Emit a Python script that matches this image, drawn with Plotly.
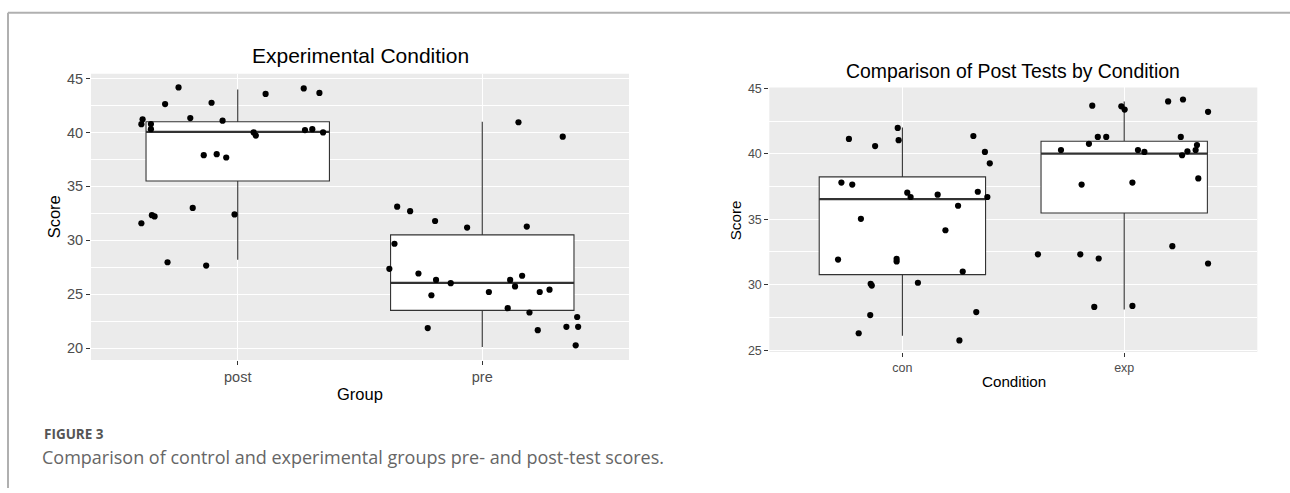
import plotly.graph_objects as go

W, H = 1290, 493

# ---------------- data ----------------
# Left panel: Experimental condition, pre vs post
groups_left = ["post", "pre"]
post_q1, post_med, post_q3, post_lo, post_hi = 35.5, 40.05, 41.0, 28.2, 44.0
pre_q1, pre_med, pre_q3, pre_lo, pre_hi = 23.5, 26.05, 30.5, 20.1, 41.0

post_jitter = [-0.394, -0.389, -0.394, -0.355, -0.355, -0.351, -0.34, -0.297, -0.287,
               -0.242, -0.194, -0.184, -0.139, -0.129, -0.107, -0.086, -0.062, -0.047,
               -0.013, 0.065, 0.074, 0.114, 0.27, 0.275, 0.305, 0.334, 0.349]
post_scores = [31.58, 41.22, 40.77, 40.79, 40.31, 32.33, 32.21, 42.64, 27.96,
               44.18, 41.34, 33.0, 37.9, 27.65, 42.76, 37.99, 41.1, 37.68,
               32.4, 40.01, 39.71, 43.58, 44.09, 40.22, 40.31, 43.67, 40.01]

pre_jitter = [-0.348, -0.295, -0.193, -0.062, 0.182, -0.359, -0.38, -0.261, -0.189,
              -0.129, -0.208, -0.223, 0.027, 0.114, 0.134, 0.163, 0.104, 0.193,
              0.235, 0.275, 0.227, 0.344, 0.388, 0.392, 0.382, 0.148, 0.329]
pre_scores = [33.12, 32.7, 31.79, 31.18, 31.27, 29.68, 27.35, 26.92, 26.32,
              26.02, 24.9, 21.85, 25.2, 26.32, 25.72, 26.71, 23.7, 23.3,
              25.2, 25.42, 21.66, 21.97, 22.88, 21.97, 20.25, 40.95, 39.61]

# Right panel: post tests by condition
groups_right = ["con", "exp"]
con_q1, con_med, con_q3, con_lo, con_hi = 30.77, 36.53, 38.24, 26.1, 42.0
exp_q1, exp_med, exp_q3, exp_lo, exp_hi = 35.48, 40.02, 40.96, 28.1, 44.0

con_jitter = [-0.241, -0.123, -0.021, -0.017, -0.275, -0.226, -0.187, -0.29, -0.026,
              -0.026, -0.143, -0.138, -0.145, -0.197, 0.022, 0.037, 0.07, 0.159,
              0.194, 0.251, 0.272, 0.257, 0.32, 0.372, 0.394, 0.34, 0.383, 0.333]
con_scores = [41.14, 40.59, 41.98, 41.04, 37.8, 37.65, 35.03, 31.92, 31.97,
              31.77, 30.07, 29.93, 27.68, 26.29, 37.03, 36.7, 30.15, 36.88,
              34.16, 36.03, 31.0, 25.74, 41.36, 40.14, 39.27, 37.1, 36.7, 27.91]

exp_jitter = [-0.144, -0.013, 0.002, 0.198, 0.265, 0.378, -0.119, -0.081, -0.159,
              -0.285, 0.062, 0.091, 0.255, 0.261, 0.285, 0.322, 0.328, -0.192,
              0.037, 0.334, -0.389, -0.198, -0.115, 0.217, 0.378, -0.135, 0.037]
exp_scores = [43.68, 43.63, 43.38, 44.0, 44.15, 43.21, 41.29, 41.29, 40.76,
              40.29, 40.29, 40.14, 41.29, 39.89, 40.19, 40.29, 40.67, 37.65,
              37.8, 38.12, 32.32, 32.32, 32.0, 32.94, 31.62, 28.3, 28.38]

left_yticks = [20, 25, 30, 35, 40, 45]
right_yticks = [25, 30, 35, 40, 45]

# ---------------- layout geometry (pixels) ----------------
def fx(px):
    return px / W

def fy(py):
    return 1 - py / H

L = dict(x0=91, x1=629, y0=69.3, y1=362)
R = dict(x0=769.3, x1=1257.3, y0=83.3, y1=354)

BOX_W = 0.75
BOX_LINE = "#333333"
GRID_BG = "#EBEBEB"
TICK_COL = "#4D4D4D"
FONT = "Liberation Sans, Arial, sans-serif"

fig = go.Figure()


def add_box(xpos, q1, med, q3, lo, hi, xa, ya):
    fig.add_trace(go.Box(
        x=[xpos], q1=[q1], median=[med], q3=[q3], lowerfence=[lo], upperfence=[hi],
        width=BOX_W, whiskerwidth=0, fillcolor="white",
        line=dict(color=BOX_LINE, width=1.1), boxpoints=False,
        xaxis=xa, yaxis=ya, showlegend=False, hoverinfo="skip"))
    fig.add_trace(go.Scatter(
        x=[xpos - BOX_W / 2, xpos + BOX_W / 2], y=[med, med], mode="lines",
        line=dict(color=BOX_LINE, width=2.2), xaxis=xa, yaxis=ya,
        showlegend=False, hoverinfo="skip"))


def add_points(center, offsets, scores, xa, ya):
    fig.add_trace(go.Scatter(
        x=[center + o for o in offsets], y=scores, mode="markers",
        marker=dict(color="black", size=6.2, line=dict(width=0)),
        xaxis=xa, yaxis=ya, showlegend=False))


# Left panel
add_box(1, post_q1, post_med, post_q3, post_lo, post_hi, "x", "y")
add_box(2, pre_q1, pre_med, pre_q3, pre_lo, pre_hi, "x", "y")
add_points(1, post_jitter, post_scores, "x", "y")
add_points(2, pre_jitter, pre_scores, "x", "y")

# Right panel
add_box(1, con_q1, con_med, con_q3, con_lo, con_hi, "x2", "y2")
add_box(2, exp_q1, exp_med, exp_q3, exp_lo, exp_hi, "x2", "y2")
add_points(1, con_jitter, con_scores, "x2", "y2")
add_points(2, exp_jitter, exp_scores, "x2", "y2")


def xaxis(dom, labels, size, anchor):
    return dict(domain=dom, range=[0.4, 2.6], tickvals=[1, 2], ticktext=labels,
                showgrid=True, gridcolor="white", gridwidth=1.1, zeroline=False,
                ticks="outside", ticklen=4, tickwidth=1, tickcolor="#333333",
                tickfont=dict(family=FONT, size=size, color=TICK_COL),
                showline=False, anchor=anchor, fixedrange=True)


def yaxis(dom, rng, tickvals, size, anchor):
    return dict(domain=dom, range=rng, tickvals=tickvals,
                showgrid=True, gridcolor="white", gridwidth=1.1, zeroline=False,
                minor=dict(tickvals=[v + 2.5 for v in [tickvals[0] - 5] + tickvals],
                           showgrid=True, gridcolor="white", gridwidth=0.55, ticks=""),
                ticks="outside", ticklen=4, tickwidth=1, tickcolor="#333333",
                tickfont=dict(family=FONT, size=size, color=TICK_COL),
                showline=False, anchor=anchor, fixedrange=True)


annotations = [
    dict(text="Experimental Condition", x=fx((L["x0"] + L["x1"]) / 2), y=fy(51),
         xref="paper", yref="paper", showarrow=False, xanchor="center", yanchor="middle",
         font=dict(family=FONT, size=21, color="black")),
    dict(text="Score", x=fx(53.5), y=fy((L["y0"] + L["y1"]) / 2), textangle=-90,
         xref="paper", yref="paper", showarrow=False, xanchor="center", yanchor="middle",
         font=dict(family=FONT, size=16.5, color="black")),
    dict(text="Group", x=fx((L["x0"] + L["x1"]) / 2), y=fy(396.5),
         xref="paper", yref="paper", showarrow=False, xanchor="center", yanchor="middle",
         font=dict(family=FONT, size=16.5, color="black")),
    dict(text="Comparison of Post Tests by Condition", x=fx((R["x0"] + R["x1"]) / 2), y=fy(66.5),
         xref="paper", yref="paper", showarrow=False, xanchor="center", yanchor="middle",
         font=dict(family=FONT, size=19.4, color="black")),
    dict(text="Score", x=fx(735.5), y=fy((R["y0"] + R["y1"]) / 2), textangle=-90,
         xref="paper", yref="paper", showarrow=False, xanchor="center", yanchor="middle",
         font=dict(family=FONT, size=15.2, color="black")),
    dict(text="Condition", x=fx(1013.5), y=fy(384.5),
         xref="paper", yref="paper", showarrow=False, xanchor="center", yanchor="middle",
         font=dict(family=FONT, size=15.2, color="black")),
    dict(text="<b>FIGURE 3</b>", x=fx(42), y=fy(437.5), xref="paper", yref="paper",
         showarrow=False, xanchor="left", yanchor="middle",
         font=dict(family="Open Sans, sans-serif", size=13.5, color="#555555")),
    dict(text="Comparison of control and experimental groups pre- and post-test scores.",
         x=fx(40), y=fy(461), xref="paper", yref="paper",
         showarrow=False, xanchor="left", yanchor="middle",
         font=dict(family="Open Sans, sans-serif", size=18, color="#666666")),
]

shapes = [
    dict(type="rect", xref="paper", yref="paper", layer="below",
         x0=fx(L["x0"]), x1=fx(L["x1"]), y0=fy(L["y1"]), y1=fy(L["y0"]),
         fillcolor=GRID_BG, line=dict(width=0)),
    dict(type="rect", xref="paper", yref="paper", layer="below",
         x0=fx(R["x0"]), x1=fx(R["x1"]), y0=fy(R["y1"]), y1=fy(R["y0"]),
         fillcolor=GRID_BG, line=dict(width=0)),
    # page frame
    dict(type="line", xref="paper", yref="paper", x0=fx(8), x1=1.0, y0=fy(7), y1=fy(7),
         line=dict(color="#B0B0B0", width=2)),
    dict(type="line", xref="paper", yref="paper", x0=fx(8), x1=fx(8), y0=fy(7), y1=0,
         line=dict(color="#B0B0B0", width=2)),
]

fig.update_layout(
    width=W, height=H, autosize=False,
    margin=dict(l=0, r=0, t=0, b=0),
    paper_bgcolor="white", plot_bgcolor="rgba(0,0,0,0)",
    showlegend=False,
    xaxis=xaxis([fx(L["x0"]), fx(L["x1"])], groups_left, 14.5, "y"),
    yaxis=yaxis([fy(L["y1"]), fy(L["y0"])], [18.9, 45.45], left_yticks, 14.5, "x"),
    xaxis2=xaxis([fx(R["x0"]), fx(R["x1"])], groups_right, 12.5, "y2"),
    yaxis2=yaxis([fy(R["y1"]), fy(R["y0"])], [24.85, 45.07], right_yticks, 12.5, "x2"),
    annotations=annotations,
    shapes=shapes,
)

fig.write_html("out.html", config=dict(displayModeBar=False),
               post_script="document.body.style.margin='0';document.body.style.overflow='hidden';")
